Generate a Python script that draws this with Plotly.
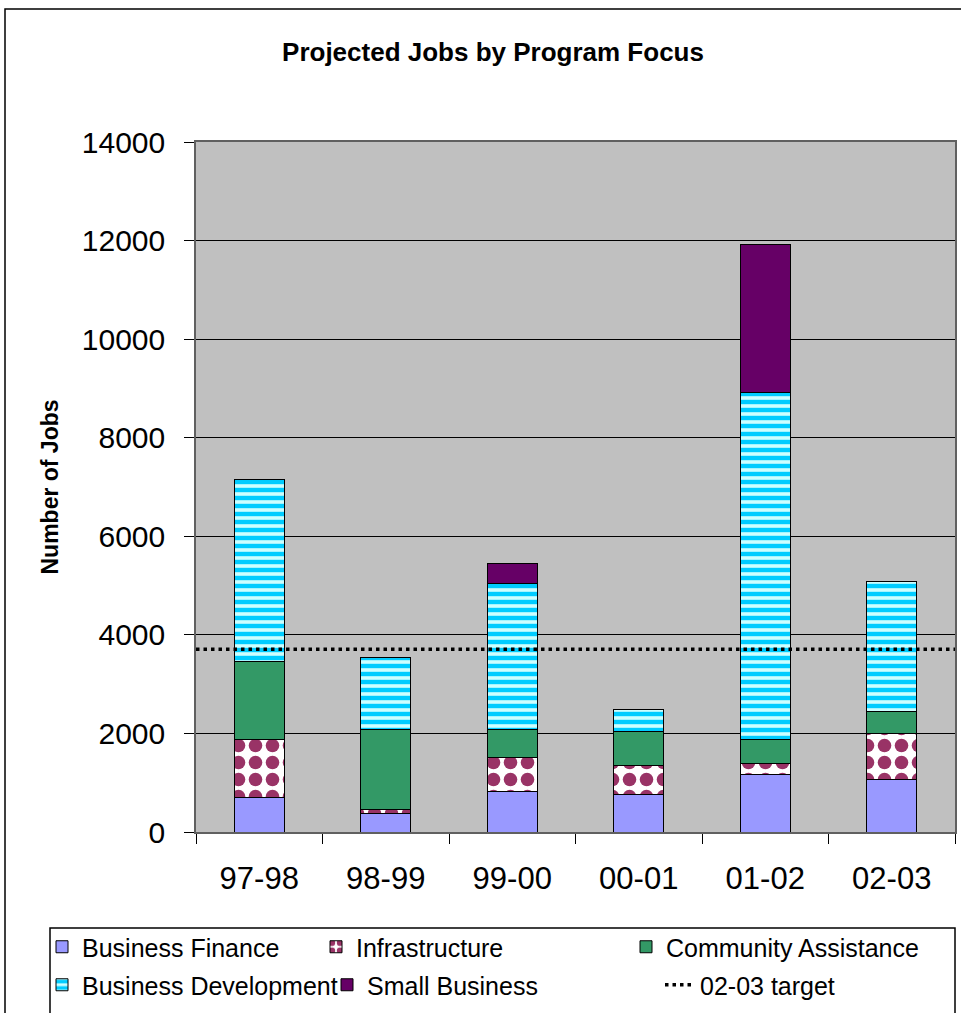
import plotly.graph_objects as go

# Fiscal years on the category axis
years = ["97-98", "98-99", "99-00", "00-01", "01-02", "02-03"]

# Projected jobs per program focus (stacked bottom to top)
business_finance = [710, 380, 820, 770, 1170, 1070]
infrastructure = [1170, 80, 690, 580, 215, 930]
community_assistance = [1570, 1610, 570, 680, 500, 440]
business_development = [3695, 1470, 2960, 455, 7035, 2645]
small_business = [None, None, 405, None, 3005, None]

# Target for 02-03
target_label = "02-03 target"
target_value = 3710

y_ticks = [0, 2000, 4000, 6000, 8000, 10000, 12000, 14000]

FONT = "Liberation Sans, Arial, sans-serif"

W, H = 961, 1013
ML, MR, MT, MB = 196, 6, 142, 181
PW, PH = W - ML - MR, H - MT - MB


def px_x(p):
    return (p - ML) / PW


def px_y(p):
    return (H - MB - p) / PH


outline = dict(color="black", width=1)

fig = go.Figure()

fig.add_trace(go.Bar(
    x=years, y=business_finance, name="Business Finance",
    marker=dict(color="#9999FF", line=outline), legend="legend",
))
fig.add_trace(go.Bar(
    x=years, y=infrastructure, name="Infrastructure",
    marker=dict(color="white", line=outline,
                pattern=dict(shape=".", bgcolor="white", fgcolor="#993366",
                             fgopacity=1, size=17, solidity=0.5)),
    legend="legend2",
))
fig.add_trace(go.Bar(
    x=years, y=community_assistance, name="Community Assistance",
    marker=dict(color="#339966", line=outline), legend="legend3",
))
fig.add_trace(go.Bar(
    x=years, y=business_development, name="Business Development",
    marker=dict(color="#CCFFFF", line=outline,
                pattern=dict(shape="-", bgcolor="#CCFFFF", fgcolor="#00CCFF",
                             fgopacity=1, size=8, solidity=0.55)),
    legend="legend4",
))
fig.add_trace(go.Bar(
    x=years, y=small_business, name="Small Business",
    marker=dict(color="#660066", line=outline), legend="legend5",
))

# Target drawn across the full plot width on an overlaid unit axis
fig.add_trace(go.Scatter(
    x=[0, 1], y=[target_value, target_value], xaxis="x2",
    mode="lines", name=target_label,
    line=dict(color="black", width=3.5, dash="3.5px,4px"),
    legend="legend6", hoverinfo="skip",
))

legend_common = dict(
    orientation="v", xanchor="left", yanchor="middle",
    bgcolor="rgba(0,0,0,0)", borderwidth=0,
    font=dict(family=FONT, size=25, color="black"),
)
row1 = px_y(947)
row2 = px_y(985)

fig.update_layout(
    width=W, height=H,
    margin=dict(l=ML, r=MR, t=MT, b=MB, autoexpand=False),
    paper_bgcolor="white",
    plot_bgcolor="#C0C0C0",
    barmode="stack",
    bargap=0.605,
    showlegend=True,
    font=dict(family=FONT, color="black"),
    title=dict(
        text="<b>Projected Jobs by Program Focus</b>",
        x=493 / W, xanchor="center", xref="container",
        y=1 - 52 / H, yanchor="middle", yref="container",
        font=dict(family=FONT, size=26, color="black"),
    ),
    xaxis=dict(
        type="category", tickson="boundaries",
        ticks="outside", ticklen=10, tickcolor="black", tickwidth=1,
        tickfont=dict(family=FONT, size=31, color="black"),
        ticklabelstandoff=18,
        showline=True, linecolor="#606060", linewidth=1.5, mirror=True,
        showgrid=False, automargin=False,
    ),
    xaxis2=dict(overlaying="x", range=[0, 1], visible=False),
    yaxis=dict(
        range=[0, 14000], tickvals=y_ticks, tickformat="d",
        ticks="outside", ticklen=10, tickcolor="black", tickwidth=1,
        tickfont=dict(family=FONT, size=30, color="black"),
        ticklabelstandoff=13,
        showgrid=True, gridcolor="black", gridwidth=1, zeroline=False,
        showline=True, linecolor="#606060", linewidth=1.5, mirror=True,
        title=dict(text="<b>Number of Jobs</b>", standoff=17,
                   font=dict(family=FONT, size=23, color="black")),
        automargin=False,
    ),
    legend=dict(legend_common, x=px_x(42), y=row1),
    legend2=dict(legend_common, x=px_x(316), y=row1),
    legend3=dict(legend_common, x=px_x(626), y=row1),
    legend4=dict(legend_common, x=px_x(42), y=row2),
    legend5=dict(legend_common, x=px_x(327), y=row2),
    legend6=dict(legend_common, x=px_x(660), y=row2),
    shapes=[
        # outer chart frame
        dict(type="rect", xref="paper", yref="paper",
             x0=px_x(5), x1=px_x(980), y0=px_y(1030), y1=px_y(9),
             line=dict(color="black", width=1.5), fillcolor="rgba(0,0,0,0)"),
        # legend frame
        dict(type="rect", xref="paper", yref="paper",
             x0=px_x(50), x1=px_x(955), y0=px_y(1030), y1=px_y(928),
             line=dict(color="black", width=1.5), fillcolor="rgba(0,0,0,0)"),
    ],
)

fig.write_html("out.html")
